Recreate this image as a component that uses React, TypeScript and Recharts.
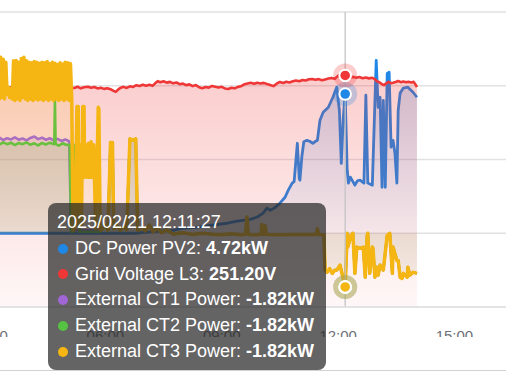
import React from 'react'
import { ComposedChart, Area, XAxis, YAxis, CartesianGrid, ReferenceLine, ReferenceDot } from 'recharts'

type Pt = [string, number]

const timeTicks = ['03:00', '06:00', '09:00', '12:00', '15:00']
const kwTicks = [-2.5, 0, 2.5, 5, 7.5]
const voltDomain = [0, 320]
const cursorTime = '12:11'
const cursorLabel = '2025/02/21 12:11:27'

const pvPower: Pt[] = [
  ['03:10', 0], ['06:46', 0], ['07:25', 0.07], ['07:45', 0.1], ['08:00', 0.17], ['08:20', 0.2], ['08:42', 0.27],
  ['09:05', 0.33], ['09:24', 0.41], ['09:44', 0.47], ['09:55', 0.55], ['10:04', 0.68], ['10:10', 0.85], ['10:15', 0.78],
  ['10:22', 0.86], ['10:30', 1.02], ['10:38', 1.22], ['10:43', 1.46], ['10:49', 1.7], ['10:52', 1.75], ['10:57', 3.05],
  ['11:00', 1.85], ['11:01', 1.8], ['11:04', 2.6], ['11:07', 3.1], ['11:12', 3.15], ['11:16', 3.12], ['11:21', 3.05],
  ['11:24', 3.1], ['11:28', 3.15], ['11:32', 3.83], ['11:37', 4.1], ['11:45', 4.27], ['11:52', 4.61], ['11:58', 4.95],
  ['12:02', 4.17], ['12:05', 2.37], ['12:08', 3.9], ['12:11', 4.72], ['12:14', 2.2], ['12:16', 1.7], ['12:19', 1.9],
  ['12:23', 1.75], ['12:26', 1.63], ['12:30', 1.78], ['12:34', 1.8], ['12:40', 1.7], ['12:43', 4.68], ['12:46', 1.7],
  ['12:53', 1.63], ['12:59', 5.86], ['13:02', 4.27], ['13:05', 4.61], ['13:08', 1.56], ['13:10', 4.5], ['13:13', 1.56],
  ['13:16', 5.42], ['13:19', 5.46], ['13:22', 2.92], ['13:25', 3.15], ['13:28', 2.71], ['13:31', 1.7], ['13:33', 4.17],
  ['13:36', 4.75], ['13:41', 4.92], ['13:48', 4.95], ['13:56', 4.78], ['14:02', 4.61],
]

const gridVoltage: Pt[] = [
  ['03:10', 238.0], ['03:25', 238.8], ['03:40', 237.6], ['03:55', 238.4], ['04:10', 237.9], ['04:25', 238.6],
  ['04:40', 237.7], ['04:55', 238.3], ['05:07', 237.8], ['05:12', 237.6], ['05:17', 238.9], ['05:22', 237.2],
  ['05:27', 238.4], ['05:33', 239.0], ['05:38', 237.8], ['05:43', 238.6], ['05:48', 237.1], ['05:53', 237.8],
  ['05:58', 236.6], ['06:03', 237.4], ['06:08', 236.2], ['06:12', 234.8], ['06:16', 233.4], ['06:20', 236.0],
  ['06:24', 237.9], ['06:28', 238.8], ['06:33', 237.6], ['06:38', 239.4], ['06:43', 238.7], ['06:48', 240.6],
  ['06:53', 239.8], ['06:58', 241.2], ['07:03', 240.1], ['07:08', 241.0], ['07:13', 239.9], ['07:17', 242.6],
  ['07:21', 245.0], ['07:25', 243.8], ['07:30', 244.9], ['07:35', 243.4], ['07:40', 244.2], ['07:45', 242.6],
  ['07:50', 243.5], ['07:55', 241.7], ['08:00', 242.4], ['08:05', 240.6], ['08:10', 241.5], ['08:15', 239.6],
  ['08:20', 240.7], ['08:25', 238.4], ['08:30', 237.3], ['08:35', 238.6], ['08:40', 238.0], ['08:45', 239.8],
  ['08:50', 238.9], ['08:55', 238.0], ['09:00', 238.8], ['09:05', 237.1], ['09:10', 236.4], ['09:15', 237.9],
  ['09:20', 237.2], ['09:25', 238.8], ['09:30', 239.5], ['09:35', 241.6], ['09:40', 242.4], ['09:45', 243.2],
  ['09:50', 242.1], ['09:55', 243.3], ['10:00', 242.5], ['10:05', 243.1], ['10:10', 241.8], ['10:15', 240.9],
  ['10:20', 239.6], ['10:25', 242.2], ['10:30', 244.1], ['10:35', 243.0], ['10:40', 244.3], ['10:45', 243.6],
  ['10:50', 244.8], ['10:55', 245.6], ['11:00', 244.9], ['11:05', 246.3], ['11:10', 245.7], ['11:15', 247.0],
  ['11:20', 247.4], ['11:25', 246.6], ['11:30', 247.2], ['11:35', 246.0], ['11:40', 246.9], ['11:45', 247.8],
  ['11:50', 248.5], ['11:55', 247.6], ['11:58', 249.6], ['12:02', 251.8], ['12:06', 250.9], ['12:11', 251.2],
  ['12:15', 250.1], ['12:20', 249.1], ['12:24', 249.6], ['12:28', 248.6], ['12:33', 249.4], ['12:38', 248.2],
  ['12:43', 248.9], ['12:48', 248.0], ['12:53', 248.6], ['12:57', 247.2], ['13:00', 245.1], ['13:04', 243.6],
  ['13:08', 241.6], ['13:11', 240.6], ['13:14', 242.4], ['13:18', 244.2], ['13:22', 242.8], ['13:25', 243.3],
  ['13:29', 244.1], ['13:33', 245.2], ['13:37', 243.9], ['13:41', 244.6], ['13:45', 243.8], ['13:49', 244.4],
  ['13:53', 243.6], ['13:57', 244.2], ['14:00', 241.2], ['14:02', 238.6],
]

const ct1Morning: Pt[] = [
  ['03:10', 3.2], ['03:16', 3.24], ['03:22', 3.16], ['03:28', 3.22], ['03:34', 3.18], ['03:40', 3.25], ['03:46', 3.17],
  ['03:52', 3.21], ['03:58', 3.15], ['04:04', 3.23], ['04:10', 3.28], ['04:16', 3.19], ['04:22', 3.24], ['04:28', 3.17],
  ['04:34', 3.22], ['04:40', 3.15], ['04:46', 3.2], ['04:52', 3.13], ['04:58', 3.18], ['05:04', 3.12], ['05:07', 0.1],
  ['05:30', 0.1], ['05:52', 0.1],
]

const ct2Morning: Pt[] = [
  ['03:10', 3.05], ['03:16', 3.0], ['03:22', 3.08], ['03:28', 3.02], ['03:34', 3.07], ['03:40', 2.99], ['03:46', 3.06],
  ['03:52', 3.02], ['03:58', 3.08], ['04:04', 3.0], ['04:10', 3.05], ['04:16', 2.98], ['04:22', 3.06], ['04:28', 3.01],
  ['04:34', 3.07], ['04:41', 3.02], ['04:42', 4.47], ['04:43', 3.03], ['04:48', 2.97], ['04:54', 3.05], ['05:00', 2.99],
  ['05:05', 3.0], ['05:07', 0.05], ['05:11', 0.05], ['05:13', 3.0], ['05:18', 3.0], ['05:20', 0.05], ['05:52', 0.05],
]

const ct3Morning: Pt[] = [
  ['03:10', 5.9], ['03:12', 4.6], ['03:14', 5.95], ['03:16', 4.55], ['03:18', 5.97], ['03:20', 4.6], ['03:22', 5.9],
  ['03:24', 4.55], ['03:26', 5.8], ['03:28', 4.7], ['03:30', 4.95], ['03:32', 4.6], ['03:34', 4.9], ['03:36', 4.55],
  ['03:38', 5.85], ['03:40', 4.5], ['03:42', 5.86], ['03:44', 4.55], ['03:46', 5.8], ['03:48', 4.5], ['03:50', 5.92],
  ['03:52', 4.6], ['03:54', 5.97], ['03:56', 4.55], ['03:58', 5.85], ['04:00', 4.5], ['04:02', 5.8], ['04:04', 4.55],
  ['04:06', 5.78], ['04:08', 4.5], ['04:10', 5.82], ['04:12', 4.55], ['04:14', 5.8], ['04:16', 4.52], ['04:18', 5.76],
  ['04:20', 4.55], ['04:22', 5.8], ['04:24', 4.5], ['04:26', 5.78], ['04:28', 4.55], ['04:30', 5.82], ['04:32', 4.5],
  ['04:34', 5.75], ['04:36', 4.55], ['04:38', 5.8], ['04:40', 4.5], ['04:42', 5.76], ['04:44', 4.55], ['04:46', 5.72],
  ['04:48', 4.5], ['04:50', 5.78], ['04:52', 4.55], ['04:54', 5.74], ['04:56', 4.5], ['04:58', 5.8], ['05:00', 4.55],
  ['05:02', 5.78], ['05:04', 4.5], ['05:06', 5.75], ['05:08', 4.55], ['05:10', 0.1], ['05:13', 0.2], ['05:16', 4.3],
  ['05:18', 4.3], ['05:19', 0.2], ['05:22', 3.0], ['05:23', 0.3], ['05:25', 4.3], ['05:27', 4.3], ['05:28', 1.9],
  ['05:30', 3.0], ['05:32', 1.9], ['05:34', 3.05], ['05:36', 1.9], ['05:38', 3.1], ['05:40', 1.9], ['05:42', 3.0],
  ['05:45', 0.15], ['05:49', 4.27], ['05:50', 4.2], ['05:52', 0.1],
]

// the three CT channels read alike from ~06:00 on
const ctDay: Pt[] = [
  ['05:55', 0.15], ['06:00', 0.25], ['06:04', 0.1], ['06:08', 3.08], ['06:11', 3.08], ['06:13', 0.15], ['06:18', 0.25],
  ['06:23', 0.1], ['06:28', 0.22], ['06:33', 0.12], ['06:38', 3.2], ['06:43', 3.15], ['06:47', 3.2], ['06:50', 0.1],
  ['06:56', 0.2], ['07:02', 0.08], ['07:08', 0.28], ['07:14', 0.05], ['07:20', 0.18], ['07:27', 0.02], ['07:35', 0.12],
  ['07:45', -0.03], ['08:00', 0.02], ['08:15', -0.04], ['08:30', 0.0], ['08:45', -0.03], ['09:00', -0.05],
  ['09:15', -0.02], ['09:30', -0.05], ['09:37', -0.03], ['09:39', 0.55], ['09:41', -0.04], ['09:55', -0.05],
  ['10:01', -0.03], ['10:02', 0.3], ['10:04', -0.04], ['10:06', -0.03], ['10:07', 0.25], ['10:09', -0.04],
  ['10:30', -0.05], ['11:00', -0.04], ['11:26', -0.04], ['11:28', 0.15], ['11:30', -0.04], ['11:38', -0.05],
  ['11:40', -1.25], ['11:43', -1.32], ['11:47', -1.2], ['11:51', -1.36], ['11:55', -1.25], ['11:58', -1.25],
  ['12:03', -1.08], ['12:06', -1.36], ['12:11', -1.82], ['12:14', 0], ['12:15', -0.47], ['12:20', -0.07],
  ['12:23', 0], ['12:26', -1.36], ['12:29', -0.47], ['12:34', -0.51], ['12:39', -0.47], ['12:42', -1.49],
  ['12:45', -0.07], ['12:46', 0], ['12:49', -1.36], ['12:53', -0.47], ['12:54', -0.51], ['12:57', -1.49],
  ['13:00', -1.15], ['13:02', -1.42], ['13:05', -1.08], ['13:10', -1.25], ['13:16', -0.07], ['13:20', 0],
  ['13:24', -1.36], ['13:25', -0.47], ['13:31', -0.92], ['13:33', -0.92], ['13:36', -1.49], ['13:39', -1.53],
  ['13:41', -1.36], ['13:47', -1.49], ['13:48', -1.15], ['13:51', -1.42], ['13:56', -1.32], ['14:02', -1.36],
]

const toMin = (s: string) => {
  const [h, m] = s.split(':').map(Number)
  return h * 60 + m
}
const hhmm = (m: number) => `${String(Math.floor(m / 60)).padStart(2, '0')}:${String(m % 60).padStart(2, '0')}`
const rows = (pts: Pt[]) => pts.map(([t, v]) => ({ t: toMin(t), v }))

const series = [
  { id: 'pv', name: 'DC Power PV2', unit: 'kW', axis: 'kw', color: '#1f87e5', width: 2.8, fill: [0.26, 0.04], points: pvPower },
  { id: 'grid', name: 'Grid Voltage L3', unit: 'V', axis: 'volt', color: '#ef3737', width: 2.6, fill: [0.25, 0.04], points: gridVoltage },
  { id: 'ct1', name: 'External CT1 Power', unit: 'kW', axis: 'kw', color: '#a066d6', width: 2.6, fill: [0.18, 0.03], points: [...ct1Morning, ...ctDay] },
  { id: 'ct2', name: 'External CT2 Power', unit: 'kW', axis: 'kw', color: '#55c243', width: 2.6, fill: [0.18, 0.03], points: [...ct2Morning, ...ctDay] },
  { id: 'ct3', name: 'External CT3 Power', unit: 'kW', axis: 'kw', color: '#f5b513', width: 3.5, fill: [0.17, 0.03], points: [...ct3Morning, ...ctDay] },
]

const cursorMin = toMin(cursorTime)
const valueAt = (pts: Pt[]) => (pts.find(p => p[0] === cursorTime) ?? pts[0])[1]

export default function App() {
  return (
    <div style={{ position: 'absolute', left: 0, top: 0, width: 506, height: 372, overflow: 'hidden', background: '#fff', fontFamily: '"Liberation Sans", Arial, sans-serif' }}>
      <div style={{ position: 'absolute', left: -51, top: 0 }}>
        <ComposedChart width={593} height={337} margin={{ top: 12, right: 10, bottom: 0, left: 40 }}>
          <defs>
            {series.map(s => (
              <linearGradient key={s.id} id={`fill-${s.id}`} x1="0" y1="0" x2="0" y2="1">
                <stop offset="0%" stopColor={s.color} stopOpacity={s.fill[0]} />
                <stop offset="100%" stopColor={s.color} stopOpacity={s.fill[1]} />
              </linearGradient>
            ))}
          </defs>
          <CartesianGrid yAxisId="kw" vertical={false} horizontalValues={kwTicks} stroke="#e2e2e2" strokeWidth={1.3} />
          <XAxis
            dataKey="t"
            type="number"
            domain={[180, 1020]}
            allowDataOverflow
            ticks={timeTicks.map(toMin)}
            tickFormatter={hhmm}
            interval={0}
            height={30}
            axisLine={{ stroke: '#e0e0e0', strokeWidth: 1.6 }}
            tickLine={false}
            tickMargin={17}
            tick={{ fill: '#6e7079', fontSize: 15 }}
          />
          <YAxis yAxisId="kw" hide type="number" domain={[kwTicks[0], kwTicks[kwTicks.length - 1]]} ticks={kwTicks} allowDataOverflow />
          <YAxis yAxisId="volt" hide type="number" domain={voltDomain} allowDataOverflow />
          {series.map(s => (
            <Area
              key={s.id}
              yAxisId={s.axis}
              data={rows(s.points)}
              dataKey="v"
              type="linear"
              stroke={s.color}
              strokeWidth={s.width}
              strokeLinejoin="round"
              fill={`url(#fill-${s.id})`}
              fillOpacity={1}
              dot={false}
              activeDot={false}
              isAnimationActive={false}
            />
          ))}
          <ReferenceLine yAxisId="kw" x={cursorMin} stroke="#c4c4c4" strokeWidth={1.3} />
          {series.map(s => (
            <ReferenceDot key={`h-${s.id}`} yAxisId={s.axis} x={cursorMin} y={valueAt(s.points)} r={12} fill={s.color} fillOpacity={0.25} stroke="none" />
          ))}
          {series.map(s => (
            <ReferenceDot key={`d-${s.id}`} yAxisId={s.axis} x={cursorMin} y={valueAt(s.points)} r={5.8} fill={s.color} stroke="#fff" strokeWidth={2} />
          ))}
        </ComposedChart>
      </div>
      <div style={{ position: 'absolute', left: 0, top: 369.5, width: 506, height: 1.5, background: '#d2d2d2' }} />
      <div
        style={{
          position: 'absolute', left: 48, top: 203, width: 278, height: 167, boxSizing: 'border-box',
          padding: '7px 9px', borderRadius: 8, background: 'rgba(40,40,40,0.72)', color: '#fff',
          fontSize: 18, lineHeight: '25.8px', whiteSpace: 'nowrap',
        }}
      >
        <div>{cursorLabel}</div>
        {series.map(s => (
          <div key={s.id} style={{ display: 'flex', alignItems: 'center' }}>
            <span style={{ display: 'inline-block', width: 10, height: 10, borderRadius: 5, background: s.color, marginLeft: 1, marginRight: 7 }} />
            <span>{s.name}:</span>
            <b style={{ marginLeft: 5 }}>{valueAt(s.points).toFixed(2)}{s.unit}</b>
          </div>
        ))}
      </div>
    </div>
  )
}
